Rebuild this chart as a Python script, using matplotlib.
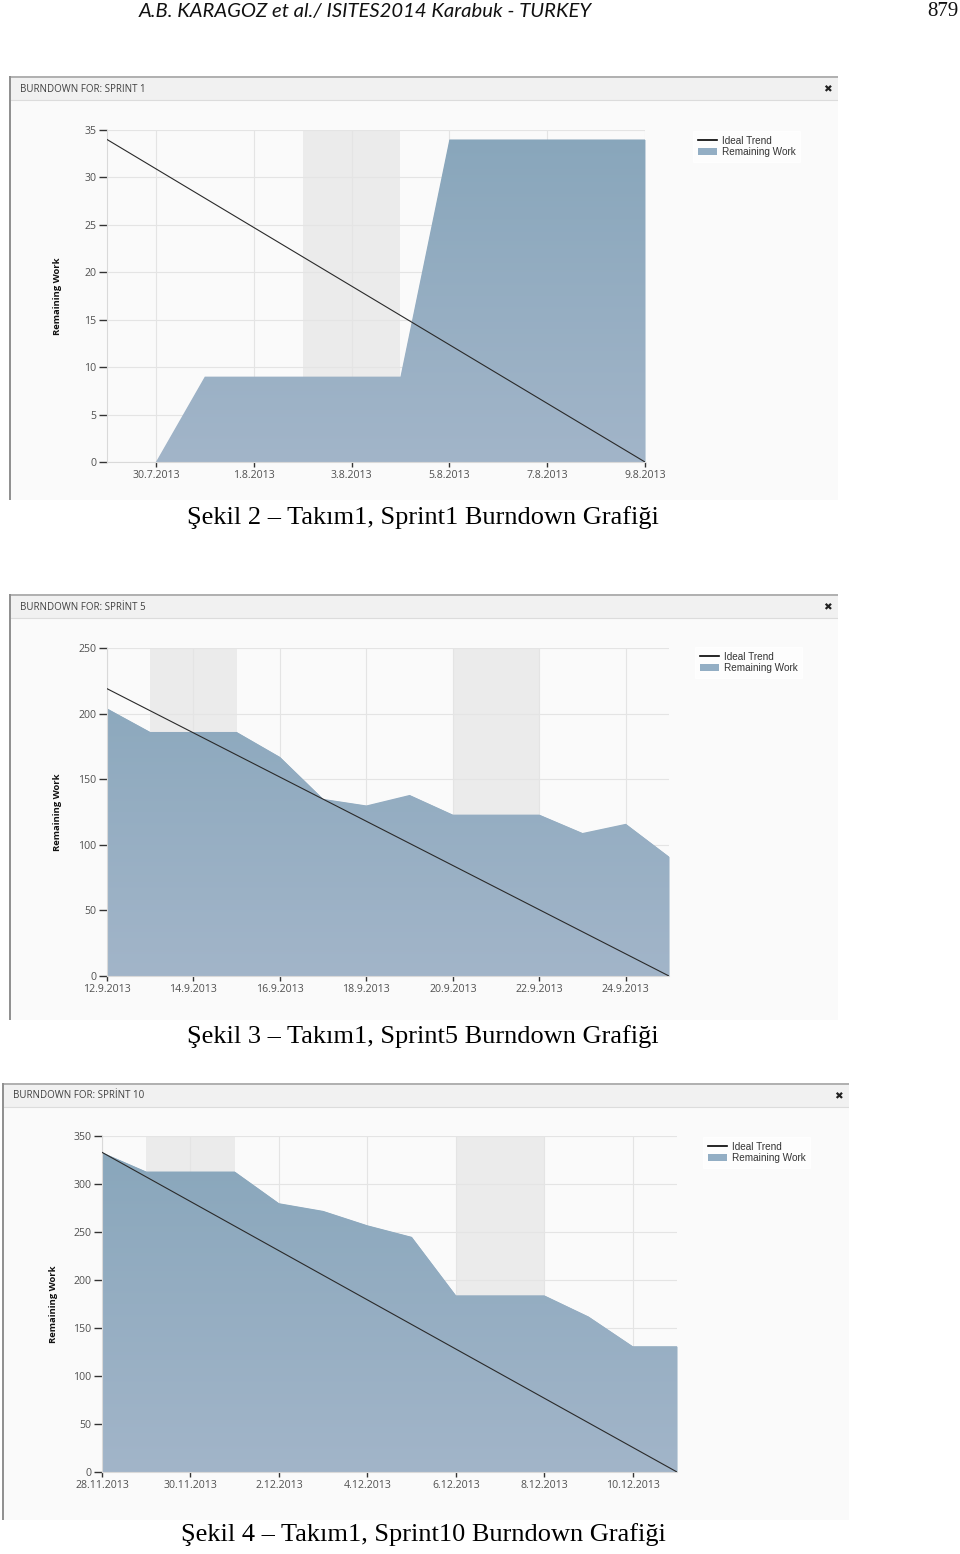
import numpy as np
import pandas as pd
import matplotlib
matplotlib.use("Agg")
import matplotlib.pyplot as plt
import matplotlib.dates as mdates
from matplotlib.patches import Rectangle, Patch
from matplotlib.lines import Line2D
from matplotlib.colors import LinearSegmentedColormap

# Sprint 1
sprint1_dates = ["29.7.2013", "30.7.2013", "31.7.2013", "1.8.2013", "2.8.2013", "3.8.2013",
                 "4.8.2013", "5.8.2013", "6.8.2013", "7.8.2013", "8.8.2013", "9.8.2013"]
sprint1_work = [np.nan, 0, 9, 9, 9, 9, 9, 34, 34, 34, 34, 34]
sprint1_ideal = [34, 0]
sprint1_ticks = ["30.7.2013", "1.8.2013", "3.8.2013", "5.8.2013", "7.8.2013", "9.8.2013"]
sprint1_weekends = [("2.8.2013", "4.8.2013")]
sprint1_yticks = [0, 5, 10, 15, 20, 25, 30, 35]

# Sprint 5
sprint5_dates = ["12.9.2013", "13.9.2013", "14.9.2013", "15.9.2013", "16.9.2013", "17.9.2013",
                 "18.9.2013", "19.9.2013", "20.9.2013", "21.9.2013", "22.9.2013", "23.9.2013",
                 "24.9.2013", "25.9.2013"]
sprint5_work = [204, 186, 186, 186, 167, 135, 130, 138, 123, 123, 123, 109, 116, 91]
sprint5_ideal = [219, 0]
sprint5_ticks = ["12.9.2013", "14.9.2013", "16.9.2013", "18.9.2013", "20.9.2013", "22.9.2013", "24.9.2013"]
sprint5_weekends = [("13.9.2013", "15.9.2013"), ("20.9.2013", "22.9.2013")]
sprint5_yticks = [0, 50, 100, 150, 200, 250]

# Sprint 10
sprint10_dates = ["28.11.2013", "29.11.2013", "30.11.2013", "1.12.2013", "2.12.2013", "3.12.2013",
                  "4.12.2013", "5.12.2013", "6.12.2013", "7.12.2013", "8.12.2013", "9.12.2013",
                  "10.12.2013", "11.12.2013"]
sprint10_work = [333, 313, 313, 313, 280, 272, 257, 245, 184, 184, 184, 162, 131, 131]
sprint10_ideal = [333, 0]
sprint10_ticks = ["28.11.2013", "30.11.2013", "2.12.2013", "4.12.2013", "6.12.2013", "8.12.2013", "10.12.2013"]
sprint10_weekends = [("29.11.2013", "1.12.2013"), ("6.12.2013", "8.12.2013")]
sprint10_yticks = [0, 50, 100, 150, 200, 250, 300, 350]

W, H = 960, 1554
fig = plt.figure(figsize=(W / 100, H / 100), dpi=100)
fig.patch.set_facecolor("white")

UI_FONT = ["Open Sans", "DejaVu Sans"]
area_cmap = LinearSegmentedColormap.from_list("area", ["#a2b5c9", "#88a6bb"])


def px_axes(x0, y0, x1, y1):
    return fig.add_axes([x0 / W, 1 - y1 / H, (x1 - x0) / W, (y1 - y0) / H])


def to_num(labels):
    return mdates.date2num(pd.to_datetime(labels, format="%d.%m.%Y"))


def draw_panel(frame, plot, legend_xy, title, dates, work, ideal, ticks, weekends, yticks):
    fx0, fy0, fx1, fy1 = frame
    w, h = fx1 - fx0, fy1 - fy0

    # window chrome
    bg = px_axes(*frame)
    bg.set_xlim(0, w)
    bg.set_ylim(h, 0)
    bg.set_facecolor("#fafafa")
    bg.set_xticks([])
    bg.set_yticks([])
    for s in bg.spines.values():
        s.set_visible(False)
    bg.add_patch(Rectangle((0, 0), w, 24, facecolor="#f1f1f1", edgecolor="none"))
    bg.plot([0, w], [0.6, 0.6], color="#b0b0b0", lw=1.4)
    bg.plot([0, w], [24, 24], color="#dcdcdc", lw=0.8)
    bg.plot([0.8, 0.8], [0, h], color="#8f8f8f", lw=1.4)
    bg.text(11, 13, title, fontsize=7, color="#404040", family=UI_FONT, va="center", ha="left")
    bg.text(w - 11, 13, "\u2716", fontsize=7.5, color="#222222", family="DejaVu Sans", va="center", ha="center")

    # chart
    ax = px_axes(*plot)
    ax.set_facecolor("none")
    x = to_num(dates)
    y = np.array(work, dtype=float)
    ymax = yticks[-1]

    for start, end in weekends:
        s, e = to_num([start, end])
        ax.axvspan(s, e, color="#ebebeb", zorder=0.3, lw=0)

    poly = ax.fill_between(x, 0, y, where=~np.isnan(y), color="#93aec4", lw=0, zorder=1.9)
    grad = np.linspace(0, 1, 256).reshape(-1, 1)
    im = ax.imshow(grad, extent=[x[0], x[-1], 0, ymax], origin="lower", aspect="auto",
                   cmap=area_cmap, zorder=2)
    im.set_clip_path(poly.get_paths()[0], transform=ax.transData)

    ax.plot([x[0], x[-1]], ideal, color="#2a2a2a", lw=0.8, zorder=3)

    ax.set_xlim(x[0], x[-1])
    ax.set_ylim(0, ymax)
    ax.set_yticks(yticks)
    ax.set_yticklabels([str(v) for v in yticks])
    ax.set_xticks(to_num(ticks))
    ax.set_xticklabels(ticks)
    ax.set_axisbelow(True)
    ax.grid(True, color="#e4e4e4", lw=0.8)
    for side in ["top", "right"]:
        ax.spines[side].set_visible(False)
    for side in ["left", "bottom"]:
        ax.spines[side].set_color("#d9d9d9")
        ax.spines[side].set_linewidth(0.8)
    ax.tick_params(axis="y", length=6, width=1.0, color="#333333", pad=1.5,
                   labelsize=7.6, labelcolor="#505050")
    ax.tick_params(axis="x", length=3.5, width=1.0, color="#333333", pad=2.5,
                   labelsize=7.6, labelcolor="#505050")
    for lab in ax.get_xticklabels() + ax.get_yticklabels():
        lab.set_family(UI_FONT)

    px0, py0, px1, py1 = plot
    fig.text((px0 - 49) / W, 1 - ((py0 + py1) / 2) / H, "Remaining Work", rotation=90,
             ha="center", va="center", fontsize=6.8, fontweight="bold", color="#111111",
             family=UI_FONT)

    handles = [Line2D([], [], color="black", lw=1.2),
               Patch(facecolor="#93aec4", edgecolor="none")]
    leg = ax.legend(handles, ["Ideal Trend", "Remaining Work"], loc="upper left",
                    bbox_to_anchor=(legend_xy[0] / W, 1 - legend_xy[1] / H),
                    bbox_transform=fig.transFigure, frameon=True, fancybox=False,
                    prop={"family": "Liberation Sans", "size": 7.2}, handlelength=1.9,
                    handleheight=0.75, handletextpad=0.45, labelspacing=0.12,
                    borderpad=0.5, borderaxespad=0)
    leg.get_frame().set_facecolor("white")
    leg.get_frame().set_edgecolor("white")
    for t in leg.get_texts():
        t.set_color("#333333")
    return ax


draw_panel((9, 76, 838, 500), (107, 130, 645, 462), (693, 131), "BURNDOWN FOR: SPRINT 1",
           sprint1_dates, sprint1_work, sprint1_ideal, sprint1_ticks, sprint1_weekends, sprint1_yticks)
draw_panel((9, 594, 838, 1020), (107, 648, 669, 976), (695, 647), "BURNDOWN FOR: SPRİNT 5",
           sprint5_dates, sprint5_work, sprint5_ideal, sprint5_ticks, sprint5_weekends, sprint5_yticks)
draw_panel((2, 1083, 849, 1520), (102, 1136, 677, 1472), (703, 1137), "BURNDOWN FOR: SPRİNT 10",
           sprint10_dates, sprint10_work, sprint10_ideal, sprint10_ticks, sprint10_weekends, sprint10_yticks)

# page header and captions
fig.text(365 / W, 1 - 12 / H, "A.B. KARAGOZ et al./ ISITES2014 Karabuk - TURKEY", ha="center",
         va="center", fontsize=14.6, style="italic", family=["Lato", "DejaVu Sans"], color="#111111")
fig.text(958 / W, 1 - 12 / H, "879", ha="right", va="center", fontsize=15,
         family="Liberation Serif", color="#111111")
captions = ["Şekil 2 – Takım1, Sprint1 Burndown Grafiği",
            "Şekil 3 – Takım1, Sprint5 Burndown Grafiği",
            "Şekil 4 – Takım1, Sprint10 Burndown Grafiği"]
for cap, cy in zip(captions, [518, 1037, 1535]):
    fig.text(423 / W, 1 - cy / H, cap, ha="center", va="center", fontsize=19,
             family="Liberation Serif", color="#000000")

fig.savefig("out.png", dpi=100)
